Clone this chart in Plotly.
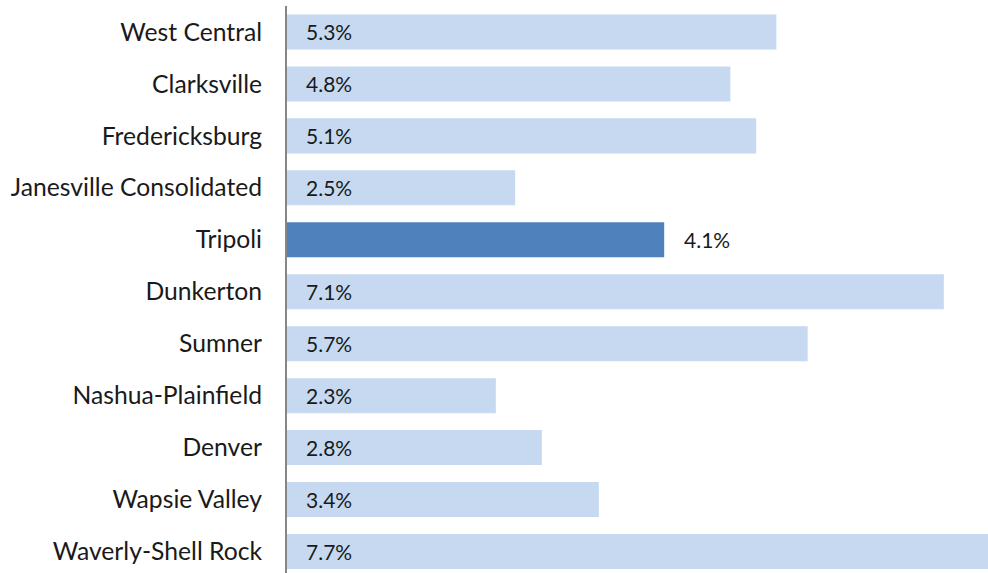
import plotly.graph_objects as go

categories = ["West Central", "Clarksville", "Fredericksburg", "Janesville Consolidated",
              "Tripoli", "Dunkerton", "Sumner", "Nashua-Plainfield", "Denver",
              "Wapsie Valley", "Waverly-Shell Rock"]
# percentages (labels show one decimal)
values = [5.32, 4.82, 5.10, 2.48, 4.10, 7.14, 5.66, 2.27, 2.77, 3.39, 7.70]
highlight = "Tripoli"

LIGHT = "#C6D9F1"
DARK = "#4F81BD"
FONT = "Lato"

colors = [DARK if c == highlight else LIGHT for c in categories]

fig = go.Figure()
fig.add_trace(go.Bar(
    x=values, y=categories, orientation="h",
    marker=dict(color=colors, line=dict(width=0)),
    hoverinfo="skip",
))

annotations = []
for c, v in zip(categories, values):
    if c == highlight:
        annotations.append(dict(x=v, y=c, xref="x", yref="y", text=f"{v:.1f}%",
                                showarrow=False, xanchor="left", xshift=18,
                                font=dict(family=FONT, size=21, color="#1a1a1a")))
    else:
        annotations.append(dict(x=0, y=c, xref="x", yref="y", text=f"{v:.1f}%",
                                showarrow=False, xanchor="left", xshift=17,
                                font=dict(family=FONT, size=21, color="#1a1a1a")))

fig.update_layout(
    width=988, height=573,
    margin=dict(l=287, r=0, t=6, b=0),
    plot_bgcolor="white", paper_bgcolor="white",
    bargap=0.326,
    showlegend=False,
    annotations=annotations,
    font=dict(family=FONT, color="#1a1a1a"),
    xaxis=dict(range=[0, 7.62], showgrid=False, zeroline=False, showticklabels=False,
               ticks="", showline=False, fixedrange=True),
    yaxis=dict(categoryorder="array", categoryarray=categories,
               range=[10.414, -0.5], showgrid=False, zeroline=False,
               showline=True, linecolor="#868686", linewidth=2,
               ticks="", ticklabelstandoff=18,
               tickfont=dict(family=FONT, size=24.7, color="#1a1a1a")),
)

fig.write_html("out.html", config={"displayModeBar": False},
               post_script="document.body.style.margin='0';")
